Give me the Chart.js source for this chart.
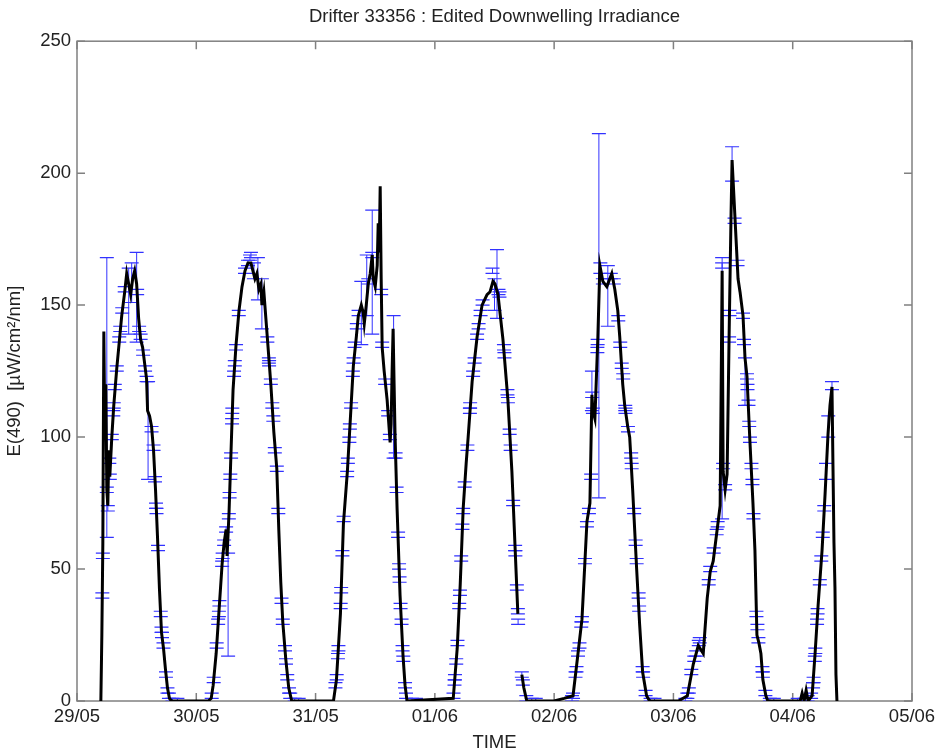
<!DOCTYPE html>
<html>
<head>
<meta charset="utf-8">
<script src="https://cdn.jsdelivr.net/npm/chart.js@4.4.1/dist/chart.umd.min.js"></script>
<style>
  html, body { margin: 0; padding: 0; background: #fff; }
</style>
</head>
<body>
<canvas id="irrChart" width="941" height="752"></canvas>
<script>
const dayLabels = ['29/05', '30/05', '31/05', '01/06', '02/06', '03/06', '04/06', '05/06'];

// time in hours since 29/05 00:00, irradiance in uW/cm2/nm (null = gap in record)
const timeHours = [
  4.8, 5.0, 5.2, 5.4, 5.6, 5.8, 6.0, 6.2, 6.4, 6.6, 7.0, 7.4, 8.0, 8.6, 9.0, 9.6, 10.0, 10.4, 10.8, 11.2,
  11.6, 12.0, 12.4, 12.8, 13.2, 13.6, 14.0, 14.2, 14.6, 15.0, 15.4, 15.8, 16.2, 16.6, 17.0, 17.4, 17.8, 18.2, 18.6, 19.0,
  26.4, 27.0, 27.4, 28.0, 28.6, 29.2, 29.6, 30.0, 30.2, 30.6, 31.0, 31.4, 32.0, 32.6, 33.2, 33.8, 34.4, 35.0, 35.4, 35.8,
  36.2, 36.6, 37.0, 37.2, 37.6, 38.0, 38.4, 39.0, 39.6, 40.2, 40.6, 41.0, 41.4, 42.0, 42.6, 43.2,
  51.6, 52.2, 53.0, 53.6, 54.4, 55.0, 55.6, 56.2, 56.6, 57.2, 57.6, 57.8, 58.2, 58.6, 59.0, 59.4, 59.6, 60.0, 60.4, 60.6,
  60.8, 61.0, 61.2, 61.4, 61.8, 62.4, 63.0, 63.2, 63.4, 63.6, 63.8, 64.0, 64.4, 65.0, 65.6, 66.0, 66.4,
  75.7, 76.5, 77.1, 77.7, 78.3, 78.7, 79.5, 80.5, 81.5, 82.5, 83.1, 83.7, 84.1, 84.7, 85.7, 86.7, 87.5, 88.1, 88.7, 89.1,
  89.5, 89.9, 90.5, 96.0, 98.0,
  99.8, 100.8, 101.6, 102.2, 102.6, 103.2, 103.6, 103.8, 104.2, 104.8, 105.2, 105.8, 106.6, 107.2, 107.6, 108.2, 108.8, 109.2, 109.8, 110.2,
  110.8, 111.2, 111.8, 112.6, 113.2, 113.8, 114.6, 115.2,
  121.0, 122.8, 124.0, 125.0, 126.0, 126.8, 127.4, 128.0, 129.0, 129.4, 129.8, 130.0, 130.4, 130.8, 131.2, 131.6, 131.8, 132.2, 132.6, 133.0,
  133.4, 134.0, 134.4, 134.8, 135.4, 136.0, 136.4, 136.8, 137.2, 137.6, 138.0, 138.6, 139.0,
  145.5, 145.9, 146.3, 146.7, 147.1, 147.9, 148.5, 149.1, 149.9, 150.5, 151.1, 151.5, 151.9, 152.1, 152.3, 152.5, 152.7, 152.9
];
const irradiance = [
  0, 25, 60, 140, 100, 120, 80, 74, 95, 85, 100, 112, 126, 138, 146, 155, 162, 158, 154, 160,
  163, 158, 145, 137, 134, 128, 122, 110, 108, 104, 95, 80, 62, 42, 26, 20, 12, 5, 1, 0,
  0, 1, 6, 18, 35, 52, 60, 65, 55, 72, 95, 118, 135, 148, 157, 163, 166, 166, 163, 160,
  162, 156, 158, 150, 155, 145, 135, 120, 102, 88, 65, 45, 30, 16, 5, 0,
  0, 8, 33, 67, 87, 107, 127, 138, 146, 150, 147, 143, 150, 158, 162, 169, 160, 157, 165, 181,
  170, 195, 160, 134, 125, 114, 98, 105, 125, 141, 120, 100, 73, 40, 17, 6, 0,
  1, 20, 44, 73, 90, 100, 121, 138, 150, 154, 155, 159, 158, 154, 137, 114, 87, 60, 33, null,
  10, 5, 0, 0, 1,
  2, 18, 31, 53, 68, 75, 116, 110, 107, 138, 165, 159, 157, 160, 162, 156, 148, 138, 120, 112,
  104, 100, 80, 50, 29, 11, 2, 0,
  0, 2, 14, 21, 18, 39, 49, 53, 68, 74, 163, 87, 80, 86, 138, 185, 205, 190, 175, 160,
  155, 146, 130, 123, 98, 75, 57, 25, 22, 18, 8, 2, 0,
  0, 3, 0, 4, 0, 2, 18, 36, 57, 78, 101, 112, 119, 89, 60, 43, 10, 0
];

// error bars: time, lower and upper limit
const errHours = [
  5.1, 5.2, 6.0, 6.2, 6.0, 6.6, 6.5, 7.0, 7.3, 7.4, 7.6, 8.0, 8.5, 8.7, 9.1, 9.6, 10.4, 11.0, 12.0, 12.1,
  12.5, 12.8, 13.3, 13.7, 14.0, 14.3, 15.0, 15.4, 15.7, 15.9, 16.0, 16.3, 16.85, 17.0, 17.1, 17.4, 17.9, 18.2, 18.5, 19.2, 20.2,
  27.1, 27.5, 28.1, 28.4, 28.55, 28.65, 29.2, 29.3, 29.6, 30.0, 30.4, 30.55, 30.7, 30.85, 31.0, 31.2, 31.25, 31.6, 31.75, 32.0,
  32.55, 33.8, 34.4, 34.8, 35.0, 35.6, 36.4, 37.2, 38.3, 38.6, 38.65, 39.0, 39.3, 39.5, 39.8, 40.2, 40.5, 41.15, 41.4, 41.85,
  42.05, 42.3, 42.65, 42.9, 43.8, 44.6,
  52.0, 52.25, 52.5, 52.6, 53.05, 53.15, 53.4, 53.65, 54.35, 54.5, 54.8, 54.9, 55.15, 55.5, 55.65, 55.85, 56.3, 56.65, 57.2, 58.3,
  58.6, 59.4, 59.4, 61.2, 61.4, 62.0, 62.6, 62.95, 63.7, 64.1, 64.3, 64.6, 64.8, 64.9, 65.1, 65.3, 65.5, 65.65, 66.0, 66.2,
  67.4, 68.2,
  75.75, 75.95, 76.05, 76.3, 76.55, 76.9, 77.05, 77.3, 77.55, 77.7, 78.0, 78.55, 79.05, 79.1, 79.7, 80.0, 80.5, 80.8, 81.2, 81.6,
  83.6, 84.0, 84.5, 84.8, 85.0, 85.9, 86.0, 86.6, 86.7, 87.05, 87.25, 87.75, 88.15, 88.2, 88.5, 88.7, 88.75, 89.5, 89.7, 90.4,
  91.5, 92.3,
  99.6, 99.8, 100.3, 100.5, 100.8, 101.1, 101.45, 101.6, 102.2, 102.6, 103.0, 103.45, 103.6, 103.8, 103.65, 104.7, 104.75, 105.0, 105.3, 105.8,
  106.8, 107.4, 108.0, 108.9, 109.3, 109.6, 109.9, 110.3, 110.35, 110.85, 111.5, 111.6, 112.1, 112.4, 112.6, 113.0, 113.1, 113.8, 113.9, 114.4,
  115.4, 116.2,
  122.4, 122.8, 123.1, 123.6, 124.2, 124.6, 125.1, 125.3, 127.1, 127.4, 128.1, 128.7, 128.9, 130.0, 130.4, 129.8, 129.8, 131.2, 131.3, 131.8,
  132.3, 132.9, 134.0, 134.2, 134.4, 134.8, 134.9, 135.1, 135.25, 135.4, 135.7, 135.9, 136.1, 136.7, 136.9, 137.1, 137.9, 138.0, 138.5, 139.4,
  140.2,
  145.0, 146.4, 147.0, 147.7, 148.1, 148.2, 148.45, 148.55, 148.9, 149.0, 149.45, 149.75, 150.05, 150.35, 150.7, 151.15, 151.9
];
const errLow = [
  39, 54, 62, 72, 79, 84, 90, 99, 108, 111, 118, 125, 136, 140, 147, 155, 139, 151, 136, 154,
  140, 137, 131, 125, 121, 84, 102, 95, 83, 73, 71, 57, 32, 26, 24, 20, 9, 3, 1, 0, 0,
  1, 7, 20, 29, 32, 36, 51, 54, 59, 64, 17, 69, 77, 84, 92, 105, 109, 123, 127, 133,
  146, 162, 165, 167, 168, 160, 152, 141, 136, 128, 127, 120, 111, 106, 94, 87, 71, 37, 29, 19,
  14, 8, 3, 1, 0, 0,
  5, 8, 16, 19, 35, 41, 55, 68, 85, 90, 98, 103, 111, 123, 128, 134, 141, 146, 135, 146,
  158, 139, 168, 154, 134, 120, 108, 99, 92, 92, 79, 62, 50, 45, 35, 29, 19, 15, 5, 1,
  0, 0,
  1, 6, 8, 14, 21, 35, 40, 53, 65, 71, 81, 95, 109, 111, 123, 128, 137, 141, 146, 150,
  162, 148, 145, 154, 153, 133, 130, 116, 113, 101, 95, 74, 57, 55, 42, 33, 29, 9, 6, 0,
  0, 0,
  0, 1, 9, 11, 17, 20, 28, 30, 52, 66, 71, 84, 110, 109, 115, 132, 135, 77, 162, 158,
  142, 160, 158, 144, 134, 126, 122, 110, 109, 102, 92, 88, 71, 59, 52, 39, 34, 11, 9, 2,
  0, 0,
  0, 1, 3, 10, 15, 17, 21, 22, 44, 49, 56, 63, 66, 88, 80, 69, 164, 136, 146, 197,
  181, 165, 145, 135, 112, 122, 118, 112, 104, 98, 88, 82, 69, 32, 27, 22, 11, 9, 2, 0,
  0,
  0, 0, 0, 1, 5, 7, 15, 18, 29, 33, 44, 53, 62, 72, 84, 100, 118
];
const errHigh = [
  41, 56, 168, 74, 81, 86, 92, 101, 110, 113, 120, 127, 138, 142, 149, 157, 164, 166, 170, 156,
  142, 139, 133, 127, 123, 121, 104, 97, 85, 75, 73, 59, 34, 28, 26, 22, 11, 5, 3, 1, 1,
  3, 9, 22, 31, 34, 38, 53, 56, 61, 66, 56, 71, 79, 86, 94, 107, 111, 125, 129, 135,
  148, 164, 167, 169, 170, 166, 168, 160, 138, 130, 129, 122, 113, 108, 96, 89, 73, 39, 31, 21,
  16, 10, 5, 3, 1, 1,
  7, 10, 18, 21, 37, 43, 57, 70, 87, 92, 100, 105, 113, 125, 130, 136, 143, 148, 159, 169,
  160, 186, 170, 156, 136, 122, 110, 101, 146, 94, 81, 64, 52, 47, 37, 31, 21, 17, 7, 3,
  1, 1,
  3, 8, 10, 16, 23, 37, 42, 55, 67, 73, 83, 97, 111, 113, 125, 130, 139, 143, 148, 152,
  164, 160, 171, 156, 155, 135, 132, 118, 115, 103, 97, 76, 59, 57, 44, 35, 31, 11, 8, 2,
  1, 1,
  2, 3, 11, 13, 19, 22, 30, 32, 54, 68, 73, 86, 125, 111, 117, 134, 137, 215, 166, 160,
  165, 162, 160, 146, 136, 128, 124, 112, 111, 104, 94, 90, 73, 61, 54, 41, 36, 13, 11, 4,
  1, 1,
  1, 3, 5, 12, 17, 19, 23, 24, 46, 51, 58, 65, 68, 90, 82, 168, 166, 138, 148, 210,
  183, 167, 147, 137, 130, 124, 120, 114, 106, 100, 90, 84, 71, 34, 29, 24, 13, 11, 4, 1,
  1,
  1, 1, 2, 3, 7, 9, 17, 20, 31, 35, 46, 55, 64, 74, 90, 108, 121
];

const lineData = timeHours.map((t, i) => ({ x: t, y: irradiance[i] }));
const errData = [];
errHours.forEach((t, i) => {
  errData.push({ x: t, y: errLow[i] }, { x: t, y: errHigh[i] }, { x: t, y: null });
});

const textColor = '#222';
const fontFam = '"Liberation Sans", Arial, Helvetica, sans-serif';
Chart.defaults.font.family = fontFam;

// matlab style box with inward ticks
const boxPlugin = {
  id: 'box',
  beforeDatasetsDraw(chart) {
    const { ctx, chartArea: a, scales } = chart;
    ctx.save();
    ctx.strokeStyle = '#808080';
    ctx.lineWidth = 1.5;
    ctx.strokeRect(a.left, a.top, a.right - a.left, a.bottom - a.top);
    ctx.beginPath();
    scales.x.ticks.forEach(t => {
      const px = scales.x.getPixelForValue(t.value);
      ctx.moveTo(px, a.bottom); ctx.lineTo(px, a.bottom - 8);
      ctx.moveTo(px, a.top); ctx.lineTo(px, a.top + 8);
    });
    scales.y.ticks.forEach(t => {
      const py = scales.y.getPixelForValue(t.value);
      ctx.moveTo(a.left, py); ctx.lineTo(a.left + 8, py);
      ctx.moveTo(a.right, py); ctx.lineTo(a.right - 8, py);
    });
    ctx.stroke();
    ctx.restore();
  }
};

const ctx = document.getElementById('irrChart').getContext('2d');
const irrChart = new Chart(ctx, {
  type: 'line',
  data: {
    datasets: [{
      label: 'E(490)',
      data: lineData,
      borderColor: '#000',
      borderWidth: 3,
      pointRadius: 0,
      tension: 0,
      spanGaps: false
    }, {
      label: 'error',
      data: errData,
      borderColor: 'rgb(50,50,255)',
      borderWidth: 1,
      pointStyle: 'line',
      pointRadius: 7,
      pointBorderWidth: 1.2,
      pointBorderColor: 'rgb(50,50,255)',
      tension: 0,
      spanGaps: false
    }]
  },
  options: {
    responsive: false,
    animation: false,
    events: [],
    layout: { padding: { left: 0, right: 29, top: 0, bottom: 0 } },
    plugins: {
      legend: { display: false },
      tooltip: { enabled: false },
      title: {
        display: true,
        fullSize: false,
        text: 'Drifter 33356 : Edited Downwelling Irradiance',
        color: textColor,
        font: { size: 18.5, weight: 'normal' },
        padding: { top: 6, bottom: 13 }
      }
    },
    scales: {
      x: {
        type: 'linear',
        min: 0,
        max: 168,
        grid: { display: false, drawTicks: false },
        border: { display: false },
        ticks: {
          stepSize: 24,
          autoSkip: false,
          maxRotation: 0,
          padding: 5,
          color: textColor,
          font: { size: 18.5 },
          callback: v => dayLabels[Math.round(v / 24)]
        },
        title: {
          display: true,
          text: 'TIME',
          color: textColor,
          font: { size: 18.5, lineHeight: 1 },
          padding: { top: 0, bottom: 0 }
        },
        afterFit: s => { s.height = 51; }
      },
      y: {
        min: 0,
        max: 250,
        grid: { display: false, drawTicks: false },
        border: { display: false },
        ticks: {
          stepSize: 50,
          padding: 6,
          color: textColor,
          font: { size: 18.5 }
        },
        title: {
          display: true,
          text: 'E(490)  [\u00b5W/cm\u00b2/nm]',
          color: textColor,
          font: { size: 18.5, lineHeight: 1.2 },
          padding: { top: 4, bottom: 0 }
        },
        afterFit: s => { s.width = 77; }
      }
    }
  },
  plugins: [boxPlugin]
});
</script>
</body>
</html>
